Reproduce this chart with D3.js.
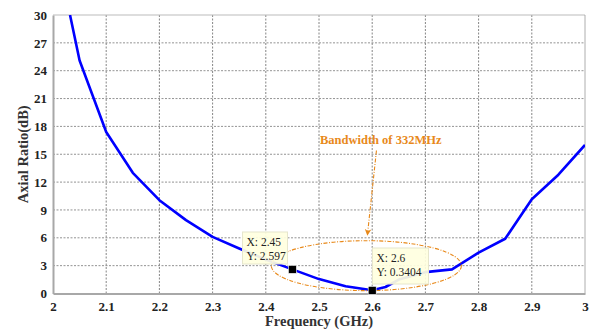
<!DOCTYPE html>
<html>
<head>
<meta charset="utf-8">
<script src="https://cdn.jsdelivr.net/npm/d3@7"></script>
<style>
  body { margin: 0; background: #fff; }
  svg text { font-family: "Liberation Serif", "Times New Roman", Times, serif; }
</style>
</head>
<body>
<div class="chart"></div>
<script>
// frequency (GHz) and axial ratio (dB)
const freq = [2.032, 2.05, 2.1, 2.15, 2.2, 2.25, 2.3, 2.35, 2.4, 2.45, 2.5, 2.55, 2.6, 2.625, 2.65, 2.7, 2.75, 2.8, 2.85, 2.9, 2.95, 3.0];
const axialRatio = [30, 25.1, 17.4, 13.0, 10.05, 7.9, 6.1, 4.85, 3.65, 2.597, 1.55, 0.78, 0.3404, 0.7, 1.5, 2.3, 2.6, 4.4, 5.9, 10.15, 12.8, 16.0];
const xTicks = [2, 2.1, 2.2, 2.3, 2.4, 2.5, 2.6, 2.7, 2.8, 2.9, 3];
const yTicks = [0, 3, 6, 9, 12, 15, 18, 21, 24, 27, 30];
const tips = [
  { x: 2.45, y: 2.597, lx: "X: 2.45", ly: "Y: 2.597" },
  { x: 2.6, y: 0.3404, lx: "X: 2.6", ly: "Y: 0.3404" }
];
const bandLabel = "Bandwidth of 332MHz";

const w = 595, h = 333;
const margin = { left: 53, right: 10, top: 15, bottom: 39.5 };

const svg = d3.select('.chart').append('svg')
  .attr('width', w).attr('height', h);

const x = d3.scaleLinear().domain([2, 3]).range([margin.left, w - margin.right]);
const y = d3.scaleLinear().domain([0, 30]).range([h - margin.bottom, margin.top]);

// grid
svg.append('g')
  .selectAll('line.vg').data(xTicks.slice(1, -1)).enter().append('line')
  .attr('x1', d => x(d)).attr('x2', d => x(d))
  .attr('y1', y(0)).attr('y2', y(30))
  .attr('stroke', '#666').attr('stroke-width', 0.8).attr('stroke-dasharray', '2,1.5');
svg.append('g')
  .selectAll('line.hg').data(yTicks.slice(1, -1)).enter().append('line')
  .attr('x1', x(2)).attr('x2', x(3))
  .attr('y1', d => y(d)).attr('y2', d => y(d))
  .attr('stroke', '#777').attr('stroke-width', 0.8).attr('stroke-dasharray', '2,1.5');

// frame
svg.append('line').attr('x1', x(2)).attr('x2', x(3)).attr('y1', y(30)).attr('y2', y(30))
  .attr('stroke', '#bbb').attr('stroke-width', 1.2);
svg.append('line').attr('x1', x(3)).attr('x2', x(3)).attr('y1', y(30)).attr('y2', y(0))
  .attr('stroke', '#999').attr('stroke-width', 0.8);

// axes
const xAxis = d3.axisBottom(x).tickValues(xTicks).tickFormat(d3.format('')).tickSize(0).tickPadding(8);
const yAxis = d3.axisLeft(y).tickValues(yTicks).tickSize(0).tickPadding(6);

const gx = svg.append('g')
  .attr('transform', 'translate(0,' + y(0) + ')')
  .call(xAxis);
const gy = svg.append('g')
  .attr('transform', 'translate(' + x(2) + ',0)')
  .call(yAxis);
[gx, gy].forEach(g => {
  g.attr('font-family', null).attr('font-size', null);
  g.select('.domain').attr('stroke', '#a8a8a8').attr('stroke-width', 2);
  g.selectAll('text')
    .style('font-family', '"Liberation Serif", "Times New Roman", serif')
    .style('font-weight', 'bold').style('font-size', '13px').attr('fill', '#222');
});

svg.append('text')
  .attr('x', (x(2) + x(3)) / 2).attr('y', 326)
  .attr('text-anchor', 'middle').style('font-weight', 'bold').style('font-size', '14.5px').attr('fill', '#333')
  .text('Frequency (GHz)');
svg.append('text')
  .attr('transform', 'translate(28,' + ((y(0) + y(30)) / 2) + ') rotate(-90)')
  .attr('text-anchor', 'middle').style('font-weight', 'bold').style('font-size', '14.5px').attr('fill', '#333')
  .text('Axial Ratio(dB)');

// clip
svg.append('clipPath').attr('id', 'clip').append('rect')
  .attr('x', x(2)).attr('y', y(30)).attr('width', x(3) - x(2)).attr('height', y(0) - y(30));

const line = d3.line().x((d, i) => x(freq[i])).y(d => y(d));
svg.append('path')
  .datum(axialRatio)
  .attr('clip-path', 'url(#clip)')
  .attr('fill', 'none').attr('stroke', '#0000ff').attr('stroke-width', 2.6)
  .attr('stroke-linejoin', 'round')
  .attr('d', line);

// bandwidth ellipse
const orange = '#e8891a';
svg.append('ellipse')
  .attr('cx', x(2.589)).attr('cy', y(3.0))
  .attr('rx', x(2.1786) - x(2)).attr('ry', y(0) - y(2.69))
  .attr('fill', 'none').attr('stroke', orange).attr('stroke-width', 1.1)
  .attr('stroke-dasharray', '4,1.5,1,1.5');

// arrow
svg.append('defs').append('marker')
  .attr('id', 'arr').attr('viewBox', '0 0 10 10').attr('refX', 9).attr('refY', 5)
  .attr('markerWidth', 6).attr('markerHeight', 7).attr('orient', 'auto-start-reverse')
  .append('path').attr('d', 'M0,0 L10,5 L0,10 L3,5 Z').attr('fill', orange);
svg.append('line')
  .attr('x1', x(2.608)).attr('y1', y(15.4))
  .attr('x2', x(2.591)).attr('y2', y(6.3))
  .attr('stroke', orange).attr('stroke-width', 1.1).attr('stroke-dasharray', '4,1.5,1,1.5')
  .attr('marker-end', 'url(#arr)');
svg.append('text')
  .attr('x', x(2.616)).attr('y', 143.5)
  .attr('text-anchor', 'middle').style('font-weight', 'bold').style('font-size', '12.5px').attr('fill', orange)
  .text(bandLabel);

// data tips
const tipBoxes = [
  { x0: 242.5, y0: 232, w: 45, h: 32 },
  { x0: 372.5, y0: 248, w: 56, h: 36 }
];
tips.forEach((t, i) => {
  const b = tipBoxes[i];
  const g = svg.append('g');
  g.append('rect').attr('x', b.x0).attr('y', b.y0).attr('width', b.w).attr('height', b.h)
    .attr('fill', '#ffffe0').attr('fill-opacity', 0.92).attr('stroke', '#e6e6cc').attr('stroke-width', 1);
  g.append('text').attr('x', b.x0 + 4).attr('y', b.y0 + 14).style('font-size', '11.5px').attr('fill', '#222').text(t.lx);
  g.append('text').attr('x', b.x0 + 4).attr('y', b.y0 + 28).style('font-size', '11.5px').attr('fill', '#222').text(t.ly);
  svg.append('rect')
    .attr('x', x(t.x) - 4).attr('y', y(t.y) - 4).attr('width', 8).attr('height', 8)
    .attr('fill', '#000').attr('stroke', '#fff').attr('stroke-width', 0.6);
});
</script>
</body>
</html>
